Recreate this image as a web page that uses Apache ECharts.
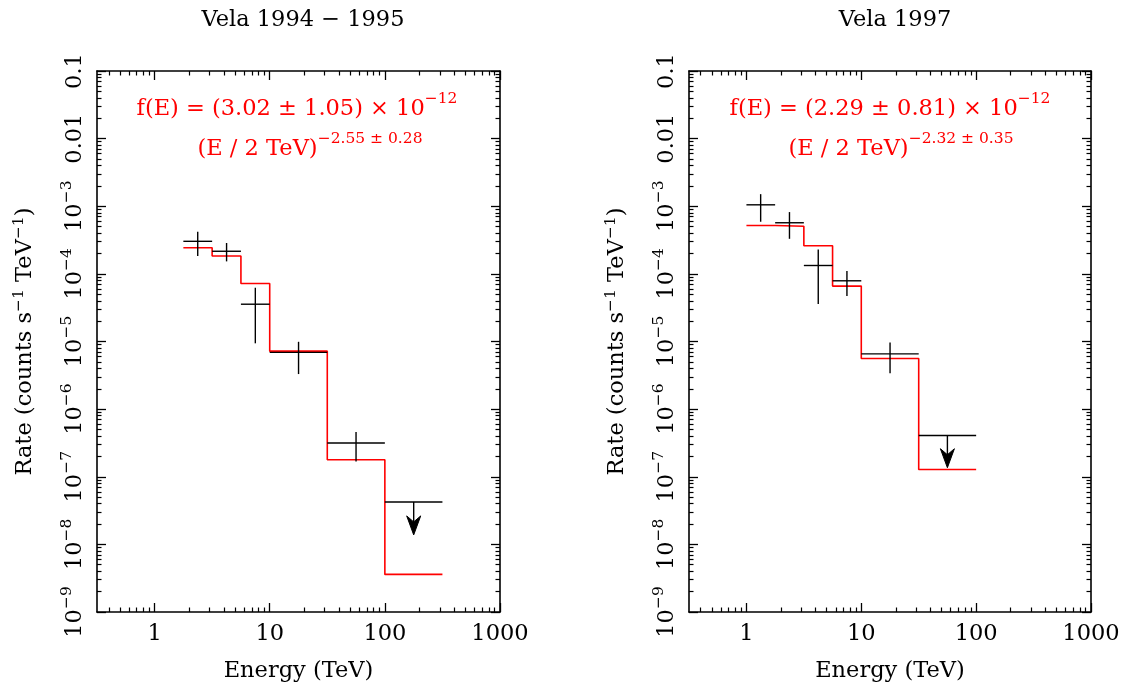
<!DOCTYPE html>
<html><head><meta charset="utf-8">
<script src="https://cdn.jsdelivr.net/npm/echarts@6/dist/echarts.min.js"></script>
<style>html,body{margin:0;padding:0;background:#fff}#c{width:1125px;height:690px}</style>
</head><body><div id="c"></div>
<script>
// ---------------- data ----------------
const titles = ['Vela 1994 \u2212 1995', 'Vela 1997'];
const xMajorTicks = [1, 10, 100, 1000];
const yMajorTicks = [1e-9, 1e-8, 1e-7, 1e-6, 1e-5, 1e-4, 1e-3, 0.01, 0.1];
const minorMultipliers = [2, 3, 4, 5, 6, 7, 8, 9];

// Panel 1: Vela 1994 - 1995
const binLo1   = [1.778, 3.162, 5.623, 10, 31.62, 100];
const binHi1   = [3.162, 5.623, 10, 31.62, 100, 316.2];
const center1  = [2.37, 4.22, 7.50, 17.8, 56.2, 178];
const rate1    = [3.03e-4, 2.16e-4, 3.56e-5, 6.9e-6, 3.16e-7, 4.24e-8];
const errHi1   = [4.2e-4, 2.86e-4, 6.24e-5, 9.9e-6, 4.6e-7, 4.24e-8];
const errLo1   = [1.84e-4, 1.53e-4, 9.4e-6, 3.3e-6, 1.68e-7, 1.38e-8];
const upper1   = [0, 0, 0, 0, 0, 1];
const model1   = [2.44e-4, 1.84e-4, 7.2e-5, 7.2e-6, 1.78e-7, 3.6e-9];
const fitA1 = ['3.02', '1.05'];
const fitIdx1 = ['2.55', '0.28'];

// Panel 2: Vela 1997
const binLo2   = [1, 1.778, 3.162, 5.623, 10, 31.62];
const binHi2   = [1.778, 3.162, 5.623, 10, 31.62, 100];
const center2  = [1.33, 2.37, 4.22, 7.50, 17.8, 56.2];
const rate2    = [1.05e-3, 5.7e-4, 1.33e-4, 7.9e-5, 6.56e-6, 4.08e-7];
const errHi2   = [1.51e-3, 8.2e-4, 2.29e-4, 1.1e-4, 9.7e-6, 4.08e-7];
const errLo2   = [5.9e-4, 3.3e-4, 3.6e-5, 4.7e-5, 3.4e-6, 1.36e-7];
const upper2   = [0, 0, 0, 0, 0, 1];
const model2   = [5.19e-4, 5.06e-4, 2.6e-4, 6.6e-5, 5.6e-6, 1.28e-7];
const fitA2 = ['2.29', '0.81'];
const fitIdx2 = ['2.32', '0.35'];

// ---------------- chart ----------------
const FONT = 'DejaVu Serif';
const FS = 22.5;
const SFS = 15.5;
const xMin = Math.pow(10, -0.5), xMax = 1000, yMin = 1e-9, yMax = 0.1;

function minorTicks(lo, hi) {
  const out = [];
  for (let e = lo; e <= hi; e++) minorMultipliers.forEach(m => out.push(m * Math.pow(10, e)));
  return out;
}
const xMinorTicks = minorTicks(-1, 2).filter(v => v > xMin && v < xMax);
const yMinorTicks = minorTicks(-9, -2);

const richSup = {
  b: { fontSize: FS, fontFamily: FONT, color: '#000', lineHeight: 28, verticalAlign: 'bottom' },
  s: { fontSize: SFS, fontFamily: FONT, color: '#000', lineHeight: 28, verticalAlign: 'top' }
};

function yLabel(v) {
  const e = Math.round(Math.log10(v));
  if (e === -1) return '{b|0.1}';
  if (e === -2) return '{b|0.01}';
  return '{b|10}{s|\u2212' + (-e) + '}';
}

const xAxes = [], yAxes = [], grids = [];
const gridPos = [{ left: 97, top: 71, width: 403, height: 541 }, { left: 689, top: 71, width: 402, height: 541 }];
gridPos.forEach((gp, g) => {
  grids.push(Object.assign({ show: false }, gp));
  const lineOn = { show: true, lineStyle: { color: '#000', width: 1.6 } };
  const base = { gridIndex: g, type: 'log', logBase: 10, splitLine: { show: false }, minorTick: { show: false }, silent: true };
  // x axes
  xAxes.push(Object.assign({}, base, {
    min: xMin, max: xMax, position: 'bottom', axisLine: lineOn,
    axisTick: { show: true, inside: true, length: 9, customValues: xMajorTicks, lineStyle: { color: '#000', width: 1.3 } },
    axisLabel: { show: true, customValues: xMajorTicks, margin: 11, fontSize: FS, fontFamily: FONT, color: '#000',
      formatter: v => String(Math.round(v)) },
    name: 'Energy (TeV)', nameLocation: 'middle', nameGap: 48,
    nameTextStyle: { fontSize: FS, fontFamily: FONT, color: '#000' }
  }));
  xAxes.push(Object.assign({}, base, {
    min: xMin, max: xMax, position: 'bottom', axisLine: { show: false },
    axisTick: { show: true, inside: true, length: 4.5, customValues: xMinorTicks, lineStyle: { color: '#000', width: 1.2 } },
    axisLabel: { show: false }
  }));
  xAxes.push(Object.assign({}, base, {
    min: xMin, max: xMax, position: 'top', axisLine: lineOn,
    axisTick: { show: true, inside: true, length: 9, customValues: xMajorTicks, lineStyle: { color: '#000', width: 1.3 } },
    axisLabel: { show: false }
  }));
  xAxes.push(Object.assign({}, base, {
    min: xMin, max: xMax, position: 'top', axisLine: { show: false },
    axisTick: { show: true, inside: true, length: 4.5, customValues: xMinorTicks, lineStyle: { color: '#000', width: 1.2 } },
    axisLabel: { show: false }
  }));
  // y axes
  yAxes.push(Object.assign({}, base, {
    min: yMin, max: yMax, position: 'left', axisLine: lineOn,
    axisTick: { show: true, inside: true, length: 9, customValues: yMajorTicks, lineStyle: { color: '#000', width: 1.3 } },
    axisLabel: { show: true, customValues: yMajorTicks, rotate: 90, margin: 10, formatter: yLabel, rich: richSup },
    name: 'Rate (counts s{s|\u22121} TeV{s|\u22121})', nameLocation: 'middle', nameGap: 58,
    nameTextStyle: { fontSize: FS, fontFamily: FONT, color: '#000', rich: richSup }
  }));
  yAxes.push(Object.assign({}, base, {
    min: yMin, max: yMax, position: 'left', axisLine: { show: false },
    axisTick: { show: true, inside: true, length: 4.5, customValues: yMinorTicks, lineStyle: { color: '#000', width: 1.2 } },
    axisLabel: { show: false }
  }));
  yAxes.push(Object.assign({}, base, {
    min: yMin, max: yMax, position: 'right', axisLine: lineOn,
    axisTick: { show: true, inside: true, length: 9, customValues: yMajorTicks, lineStyle: { color: '#000', width: 1.3 } },
    axisLabel: { show: false }
  }));
  yAxes.push(Object.assign({}, base, {
    min: yMin, max: yMax, position: 'right', axisLine: { show: false },
    axisTick: { show: true, inside: true, length: 4.5, customValues: yMinorTicks, lineStyle: { color: '#000', width: 1.2 } },
    axisLabel: { show: false }
  }));
});

function stepData(lo, hi, lvl) {
  const pts = [];
  lvl.forEach((v, i) => { pts.push([lo[i], v]); pts.push([hi[i], v]); });
  return pts;
}
function errData(lo, hi, c, r, el, eh, ul) {
  return r.map((v, i) => [lo[i], hi[i], c[i], v, el[i], eh[i], ul[i]]);
}
function renderErr(params, api) {
  const lo = api.value(0), hi = api.value(1), c = api.value(2), r = api.value(3);
  const el = api.value(4), eh = api.value(5), ul = api.value(6);
  const p1 = api.coord([lo, r]), p2 = api.coord([hi, r]);
  const st = { stroke: '#000', lineWidth: 1.4 };
  const ch = [{ type: 'line', shape: { x1: p1[0], y1: p1[1], x2: p2[0], y2: p2[1] }, style: st }];
  const t = api.coord([c, eh]), b = api.coord([c, el]);
  if (ul) {
    const x = t[0];
    ch.push({ type: 'line', shape: { x1: x, y1: t[1], x2: x, y2: b[1] - 10 }, style: st });
    ch.push({ type: 'polygon', shape: { points: [[x, b[1]], [x - 7, b[1] - 19], [x, b[1] - 13], [x + 7, b[1] - 19]] },
      style: { fill: '#000', stroke: '#000', lineWidth: 1 } });
  } else {
    ch.push({ type: 'line', shape: { x1: t[0], y1: t[1], x2: b[0], y2: b[1] }, style: st });
  }
  return { type: 'group', children: ch };
}

const panels = [
  { lo: binLo1, hi: binHi1, c: center1, r: rate1, el: errLo1, eh: errHi1, ul: upper1, m: model1 },
  { lo: binLo2, hi: binHi2, c: center2, r: rate2, el: errLo2, eh: errHi2, ul: upper2, m: model2 }
];
const series = [];
panels.forEach((p, g) => {
  series.push({ type: 'line', xAxisIndex: g * 4, yAxisIndex: g * 4, data: stepData(p.lo, p.hi, p.m),
    showSymbol: false, symbol: 'none', lineStyle: { color: '#ff0000', width: 1.6 }, silent: true, z: 2 });
  series.push({ type: 'custom', xAxisIndex: g * 4, yAxisIndex: g * 4, data: errData(p.lo, p.hi, p.c, p.r, p.el, p.eh, p.ul),
    encode: { x: [0, 1, 2], y: [3, 4, 5] }, renderItem: renderErr, silent: true, z: 3 });
});

const richRed = {
  b: { fontSize: FS, fontFamily: FONT, fill: '#ff0000', color: '#ff0000', lineHeight: 30, verticalAlign: 'bottom' },
  s: { fontSize: SFS, fontFamily: FONT, fill: '#ff0000', color: '#ff0000', lineHeight: 30, verticalAlign: 'top' }
};
function fitTexts(cx1, cx2, A, I) {
  return [
    { type: 'text', x: cx1, y: 106, silent: true,
      style: { text: '{b|f(E) = (' + A[0] + ' \u00b1 ' + A[1] + ') \u00d7 10}{s|\u221212}', align: 'center', verticalAlign: 'middle', rich: richRed } },
    { type: 'text', x: cx2, y: 146, silent: true,
      style: { text: '{b|(E / 2 TeV)}{s|\u2212' + I[0] + ' \u00b1 ' + I[1] + '}', align: 'center', verticalAlign: 'middle', rich: richRed } }
  ];
}

const option = {
  animation: false,
  backgroundColor: '#fff',
  title: [
    { text: titles[0], left: 298, top: 4, textAlign: 'center', textStyle: { fontSize: FS, fontFamily: FONT, fontWeight: 'normal', color: '#000' } },
    { text: titles[1], left: 890, top: 4, textAlign: 'center', textStyle: { fontSize: FS, fontFamily: FONT, fontWeight: 'normal', color: '#000' } }
  ],
  grid: grids,
  xAxis: xAxes,
  yAxis: yAxes,
  series: series,
  graphic: fitTexts(297, 310, fitA1, fitIdx1).concat(fitTexts(890, 901, fitA2, fitIdx2))
};
const chart = echarts.init(document.getElementById('c'), null, { renderer: 'canvas' });
chart.setOption(option);
</script>
</body></html>
